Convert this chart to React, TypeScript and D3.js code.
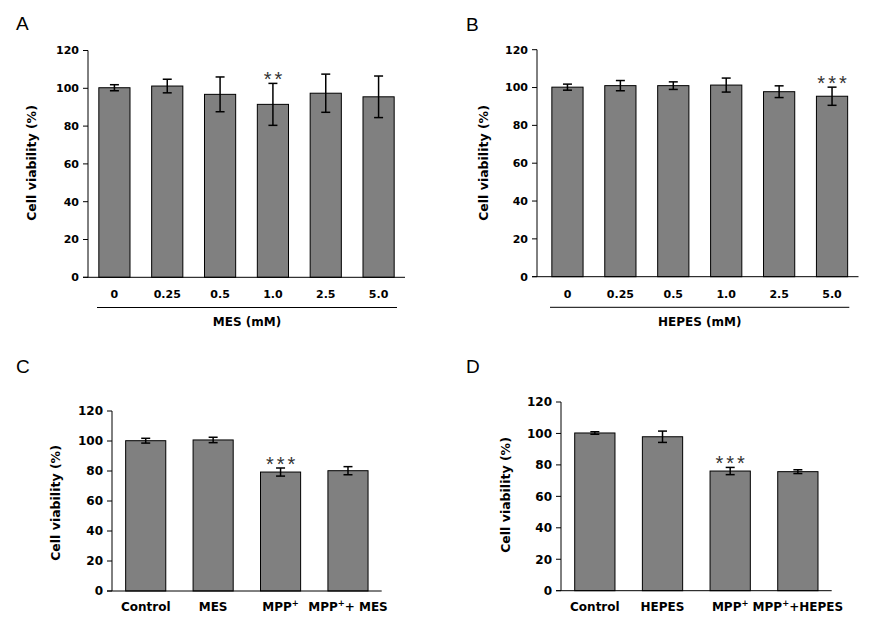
import React from "react";
import * as d3 from "d3";

// ---------- data ----------
const concLabels = ["0", "0.25", "0.5", "1.0", "2.5", "5.0"];
const mesValues = [100.3, 101.2, 96.8, 91.5, 97.4, 95.5];
const mesErrors = [1.6, 3.6, 9.2, 11.1, 10.1, 11.0];
const hepesValues = [100.2, 101.0, 101.0, 101.3, 97.8, 95.4];
const hepesErrors = [1.6, 2.7, 2.0, 3.7, 3.1, 4.8];

const cLabels = ["Control", "MES", "MPP{+}", "MPP{+}+ MES"];
const cValues = [100.2, 100.7, 79.3, 80.2];
const cErrors = [1.6, 1.8, 2.7, 2.7];

const dLabels = ["Control", "HEPES", "MPP{+}", "MPP{+}+HEPES"];
const dValues = [100.3, 97.9, 76.1, 75.7];
const dErrors = [0.8, 3.6, 2.3, 1.2];

const yTicks = [0, 20, 40, 60, 80, 100, 120];
const yLabel = "Cell viability (%)";

type PanelCfg = {
  letter: string;
  letterX: number;
  letterY: number;
  labels: string[];
  values: number[];
  errors: number[];
  star: { index: number; text: string };
  axisX: number;
  bandStart: number;
  axisEnd: number;
  y0: number;
  yTop: number;
  barFrac: number;
  tickFont: number;
  xLabelY: number;
  yLabelX: number;
  yLabelY: number;
  yLabelFont: number;
  title?: string;
  titleY?: number;
  underline?: [number, number, number];
};

const FONT = "'DejaVu Sans', Verdana, sans-serif";

function renderLabel(s: string) {
  const parts = s.split(/(\{[^}]*\})/).filter((p) => p.length);
  return parts.map((p, i) =>
    p.startsWith("{") ? (
      <tspan key={i} dy={-5} fontSize="0.7em">
        {p.slice(1, -1)}
      </tspan>
    ) : (
      <tspan key={i} dy={i > 0 && parts[i - 1].startsWith("{") ? 5 : 0}>
        {p}
      </tspan>
    )
  );
}

function Panel({ c }: { c: PanelCfg }) {
  const x = d3
    .scaleBand<string>()
    .domain(c.labels)
    .range([c.bandStart, c.axisEnd])
    .paddingInner(1 - c.barFrac)
    .paddingOuter((1 - c.barFrac) / 2);
  const y = d3.scaleLinear().domain([0, 120]).range([c.y0, c.yTop]);
  const bw = x.bandwidth();
  const cap = 4.5;
  return (
    <g>
      <text
        x={c.letterX}
        y={c.letterY}
        fontFamily="'Liberation Sans', Arial, sans-serif"
        fontSize={19}
        fill="#000"
      >
        {c.letter}
      </text>
      {/* bars */}
      {c.labels.map((l, i) => (
        <rect
          key={l}
          x={x(l)!}
          y={y(c.values[i])}
          width={bw}
          height={y(0) - y(c.values[i])}
          fill="#808080"
          stroke="#000"
          strokeWidth={1}
        />
      ))}
      {/* error bars */}
      {c.labels.map((l, i) => {
        const cx = x(l)! + bw / 2;
        const hi = y(c.values[i] + c.errors[i]);
        const lo = y(c.values[i] - c.errors[i]);
        return (
          <g key={"e" + l} stroke="#000" strokeWidth={1.5}>
            <line x1={cx} x2={cx} y1={hi} y2={lo} />
            <line x1={cx - cap} x2={cx + cap} y1={hi} y2={hi} />
            <line x1={cx - cap} x2={cx + cap} y1={lo} y2={lo} />
          </g>
        );
      })}
      {/* stars */}
      {(() => {
        const i = c.star.index;
        const l = c.labels[i];
        const cx = x(l)! + bw / 2;
        const top = y(c.values[i] + c.errors[i]);
        return (
          <text
            x={cx + 1.5}
            y={top + 3}
            textAnchor="middle"
            fontFamily="'Liberation Sans', Arial, sans-serif"
            fontSize={20}
            letterSpacing={3}
            fill="#333"
          >
            {c.star.text}
          </text>
        );
      })()}
      {/* y axis */}
      <line x1={c.axisX} x2={c.axisX} y1={y(120)} y2={y(0)} stroke="#000" strokeWidth={1} />
      {yTicks.map((t) => (
        <g key={t}>
          <line x1={c.axisX - 5} x2={c.axisX} y1={y(t)} y2={y(t)} stroke="#000" strokeWidth={1} />
          <text
            x={c.axisX - 9}
            y={y(t) + c.tickFont * 0.36}
            textAnchor="end"
            fontFamily={FONT}
            fontWeight="bold"
            fontSize={c.tickFont}
            fill="#000"
          >
            {t}
          </text>
        </g>
      ))}
      {/* x axis */}
      <line x1={c.axisX - 5} x2={c.axisEnd} y1={y(0)} y2={y(0)} stroke="#000" strokeWidth={1} />
      {c.labels.map((l) => (
        <text
          key={"t" + l}
          x={x(l)! + bw / 2}
          y={c.xLabelY + c.tickFont * 0.36}
          textAnchor="middle"
          fontFamily={FONT}
          fontWeight="bold"
          fontSize={c.tickFont}
          fill="#000"
        >
          {renderLabel(l)}
        </text>
      ))}
      {c.underline && (
        <line
          x1={c.underline[0]}
          x2={c.underline[1]}
          y1={c.underline[2]}
          y2={c.underline[2]}
          stroke="#000"
          strokeWidth={1}
        />
      )}
      {c.title && (
        <text
          x={(c.underline![0] + c.underline![1]) / 2}
          y={c.titleY! + 12 * 0.36}
          textAnchor="middle"
          fontFamily={FONT}
          fontWeight="bold"
          fontSize={12}
          fill="#000"
        >
          {c.title}
        </text>
      )}
      <text
        transform={`translate(${c.yLabelX},${c.yLabelY}) rotate(-90)`}
        textAnchor="middle"
        dominantBaseline="central"
        fontFamily={FONT}
        fontWeight="bold"
        fontSize={c.yLabelFont}
        fill="#000"
      >
        {yLabel}
      </text>
    </g>
  );
}

const panels: PanelCfg[] = [
  {
    letter: "A",
    letterX: 16,
    letterY: 30,
    labels: concLabels,
    values: mesValues,
    errors: mesErrors,
    star: { index: 3, text: "**" },
    axisX: 88,
    bandStart: 88,
    axisEnd: 405,
    y0: 277.3,
    yTop: 50.5,
    barFrac: 0.59,
    tickFont: 11,
    xLabelY: 294,
    yLabelX: 31.7,
    yLabelY: 163,
    yLabelFont: 12.5,
    title: "MES (mM)",
    titleY: 322,
    underline: [97, 397, 307.5],
  },
  {
    letter: "B",
    letterX: 466,
    letterY: 30.5,
    labels: concLabels,
    values: hepesValues,
    errors: hepesErrors,
    star: { index: 5, text: "***" },
    axisX: 537,
    bandStart: 541,
    axisEnd: 858.5,
    y0: 276.7,
    yTop: 49.7,
    barFrac: 0.59,
    tickFont: 11,
    xLabelY: 294,
    yLabelX: 483.3,
    yLabelY: 163,
    yLabelFont: 12.5,
    title: "HEPES (mM)",
    titleY: 322,
    underline: [550, 849.3, 307.3],
  },
  {
    letter: "C",
    letterX: 16,
    letterY: 373,
    labels: cLabels,
    values: cValues,
    errors: cErrors,
    star: { index: 2, text: "***" },
    axisX: 112,
    bandStart: 112,
    axisEnd: 381.7,
    y0: 591,
    yTop: 411,
    barFrac: 0.595,
    tickFont: 12,
    xLabelY: 606.7,
    yLabelX: 55,
    yLabelY: 503,
    yLabelFont: 12.5,
  },
  {
    letter: "D",
    letterX: 466,
    letterY: 373,
    labels: dLabels,
    values: dValues,
    errors: dErrors,
    star: { index: 2, text: "***" },
    axisX: 561,
    bandStart: 561,
    axisEnd: 831.7,
    y0: 590.7,
    yTop: 402,
    barFrac: 0.595,
    tickFont: 12,
    xLabelY: 606.7,
    yLabelX: 505.7,
    yLabelY: 495,
    yLabelFont: 12.5,
  },
];

export default function App() {
  return (
    <svg
      width={874}
      height={626}
      style={{ position: "absolute", left: 0, top: 0, background: "#fff" }}
    >
      <rect width={874} height={626} fill="#fff" />
      {panels.map((p) => (
        <Panel key={p.letter} c={p} />
      ))}
    </svg>
  );
}
